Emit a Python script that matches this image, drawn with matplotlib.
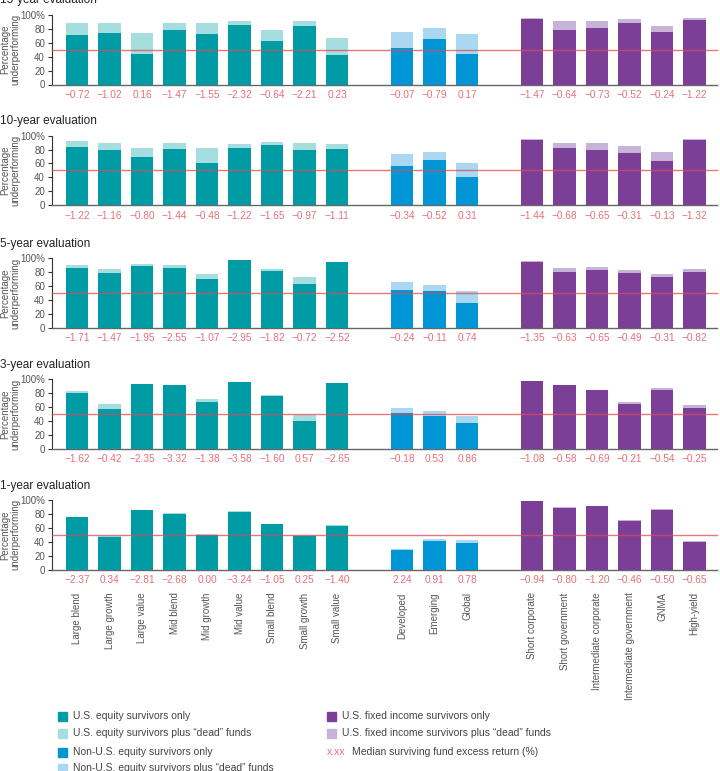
import matplotlib.pyplot as plt
from matplotlib.patches import Rectangle

plt.rcParams['font.family'] = ['Liberation Sans', 'DejaVu Sans']

eq_cats = ['Large blend', 'Large growth', 'Large value', 'Mid blend', 'Mid growth',
           'Mid value', 'Small blend', 'Small growth', 'Small value']
intl_cats = ['Developed', 'Emerging', 'Global']
fi_cats = ['Short corporate', 'Short government', 'Intermediate corporate',
           'Intermediate government', 'GNMA', 'High-yield']

horizons = ['15-year evaluation', '10-year evaluation', '5-year evaluation',
            '3-year evaluation', '1-year evaluation']

# survivors only / survivors plus "dead" funds (% underperforming), order: US eq, non-US eq, US fixed income
surv_15 = [71, 74, 44, 79, 72, 86, 62, 84, 43, 52, 65, 44, 94, 79, 82, 88, 76, 93]
dead_15 = [89, 89, 74, 89, 88, 92, 79, 92, 67, 76, 81, 72, 96, 91, 91, 94, 84, 96]
ret_15 = [-0.72, -1.02, 0.16, -1.47, -1.55, -2.32, -0.64, -2.21, 0.23,
          -0.07, -0.79, 0.17, -1.47, -0.64, -0.73, -0.52, -0.24, -1.22]

surv_10 = [84, 80, 70, 81, 61, 83, 86, 79, 81, 56, 65, 41, 94, 82, 80, 75, 63, 94]
dead_10 = [92, 90, 83, 89, 82, 88, 91, 89, 88, 74, 77, 61, 95, 90, 89, 85, 76, 95]
ret_10 = [-1.22, -1.16, -0.80, -1.44, -0.48, -1.22, -1.65, -0.97, -1.11,
          -0.34, -0.52, 0.31, -1.44, -0.68, -0.65, -0.31, -0.13, -1.32]

surv_5 = [86, 79, 89, 86, 70, 98, 82, 63, 95, 55, 53, 35, 95, 80, 83, 79, 73, 81]
dead_5 = [91, 85, 92, 90, 78, 98, 85, 73, 95, 66, 61, 53, 96, 86, 88, 83, 78, 84]
ret_5 = [-1.71, -1.47, -1.95, -2.55, -1.07, -2.95, -1.82, -0.72, -2.52,
         -0.24, -0.11, 0.74, -1.35, -0.63, -0.65, -0.49, -0.31, -0.82]

surv_3 = [80, 57, 93, 92, 67, 96, 76, 40, 95, 52, 47, 37, 97, 92, 84, 65, 85, 59]
dead_3 = [83, 64, 93, 92, 72, 96, 77, 49, 95, 58, 54, 47, 97, 92, 85, 67, 88, 63]
ret_3 = [-1.62, -0.42, -2.35, -3.32, -1.38, -3.58, -1.60, 0.57, -2.65,
         -0.18, 0.53, 0.86, -1.08, -0.58, -0.69, -0.21, -0.54, -0.25]

surv_1 = [75, 47, 85, 80, 50, 83, 65, 48, 63, 28, 41, 38, 98, 89, 91, 70, 86, 40]
dead_1 = [76, 48, 86, 81, 51, 84, 66, 49, 64, 29, 44, 42, 99, 90, 92, 71, 87, 41]
ret_1 = [-2.37, 0.34, -2.81, -2.68, 0.00, -3.24, -1.05, 0.25, -1.40,
         2.24, 0.91, 0.78, -0.94, -0.80, -1.20, -0.46, -0.50, -0.65]

surv_all = [surv_15, surv_10, surv_5, surv_3, surv_1]
dead_all = [dead_15, dead_10, dead_5, dead_3, dead_1]
ret_all = [ret_15, ret_10, ret_5, ret_3, ret_1]

# кольори
teal, teal_l = '#009CA6', '#A6DEE0'
blue, blue_l = '#0096D6', '#A9D8F0'
purp, purp_l = '#7B3F98', '#C8B3D8'
red = '#E5707A'
grey = '#555555'

cats = eq_cats + intl_cats + fi_cats
xpos = list(range(9)) + [10, 11, 12] + [14, 15, 16, 17, 18, 19]
dark_cols = [teal] * 9 + [blue] * 3 + [purp] * 6
light_cols = [teal_l] * 9 + [blue_l] * 3 + [purp_l] * 6

W, H = 720, 771
fig = plt.figure(figsize=(W / 100, H / 100), dpi=100)

tops = [15, 135.7, 258.3, 379.3, 500]
ph = 69.5
left, right = 52, 717

for k in range(5):
    ax = fig.add_axes([left / W, 1 - (tops[k] + ph) / H, (right - left) / W, ph / H])
    ax.bar(xpos, dead_all[k], width=0.7, color=light_cols, zorder=2)
    ax.bar(xpos, surv_all[k], width=0.7, color=dark_cols, zorder=3)
    ax.axhline(50, color='#DD4A55', alpha=0.75, lw=1, zorder=4, clip_on=False)

    for x, v in zip(xpos, ret_all[k]):
        ax.text(x, -15, f'{v:.2f}'.replace('-', '\u2212'), ha='center', va='center',
                fontsize=7.3, color=red, clip_on=False)

    ax.set_xlim(-0.77, 19.69)
    ax.set_ylim(0, 100)
    ax.set_yticks([0, 20, 40, 60, 80, 100])
    ax.set_yticklabels(['0', '20', '40', '60', '80', '100%'])
    ax.set_xticks([])
    ax.tick_params(axis='y', labelsize=7, colors=grey, length=3, width=0.8, pad=2)
    ax.tick_params(axis='y', color='#333333')
    for s in ['top', 'right']:
        ax.spines[s].set_visible(False)
    ax.spines['left'].set_color('#333333')
    ax.spines['left'].set_linewidth(0.8)
    ax.spines['bottom'].set_color('#666666')
    ax.spines['bottom'].set_linewidth(1.0)

    fig.text(0 / W, 1 - (tops[k] - 14.5) / H, horizons[k], fontsize=8.5, color='#222222',
             ha='left', va='center')
    fig.text(10 / W, 1 - (tops[k] + ph / 2) / H, 'Percentage\nunderperforming', rotation=90,
             fontsize=7, color=grey, ha='center', va='center', linespacing=1.0)

    if k == 4:
        for x, c in zip(xpos, cats):
            ax.text(x, -33, c, rotation=90, ha='center', va='top', fontsize=7,
                    color=grey, clip_on=False)

# легенда
legend_left = [(716, teal, 'U.S. equity survivors only'),
               (733, teal_l, 'U.S. equity survivors plus \u201cdead\u201d funds'),
               (752, blue, 'Non-U.S. equity survivors only'),
               (768, blue_l, 'Non-U.S. equity survivors plus \u201cdead\u201d funds')]
legend_right = [(716, purp, 'U.S. fixed income survivors only'),
                (733, purp_l, 'U.S. fixed income survivors plus \u201cdead\u201d funds')]

for items, x0 in [(legend_left, 58), (legend_right, 327)]:
    for y, col, txt in items:
        fig.add_artist(Rectangle((x0 / W, 1 - (y + 4.5) / H), 8.5 / W, 9 / H,
                                 transform=fig.transFigure, color=col))
        fig.text((x0 + 15) / W, 1 - y / H, txt, fontsize=7.5, color='#444444',
                 ha='left', va='center')

fig.text(327 / W, 1 - 752 / H, 'x.xx', fontsize=7.5, color=red, ha='left', va='center')
fig.text(352 / W, 1 - 752 / H, 'Median surviving fund excess return (%)', fontsize=7.5,
         color='#444444', ha='left', va='center')

plt.savefig('out.png', dpi=100)
